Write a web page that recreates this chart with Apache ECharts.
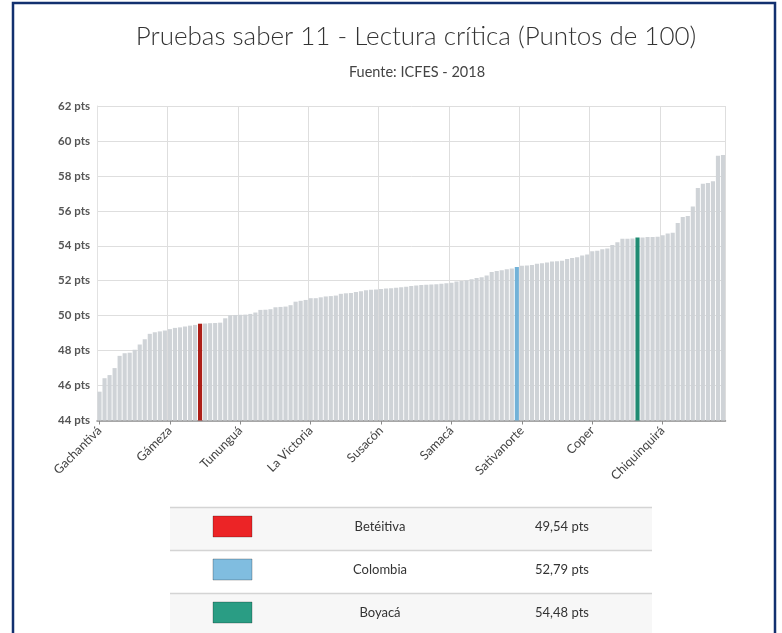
<!DOCTYPE html>
<html>
<head>
<meta charset="utf-8">
<script src="https://cdn.jsdelivr.net/npm/echarts@6/dist/echarts.min.js"></script>
<style>
html,body{margin:0;padding:0;background:#fff;}
#chart{width:782px;height:633px;}
</style>
</head>
<body>
<div id="chart"></div>
<script>
// ---- Data ----
const titleText = 'Pruebas saber 11 - Lectura crítica (Puntos de 100)';
const subtitleText = 'Fuente: ICFES - 2018';

// Scores (points out of 100), sorted ascending, one bar per entity
const scores = [
  45.65, 46.42, 46.60, 47.00, 47.70, 47.85, 47.88, 48.05, 48.35, 48.65,
  48.96, 49.05, 49.10, 49.15, 49.23, 49.30, 49.33, 49.38, 49.43, 49.47,
  49.54, 49.55, 49.57, 49.58, 49.60, 49.85, 50.02, 50.04, 50.05, 50.06,
  50.10, 50.18, 50.33, 50.34, 50.37, 50.48, 50.50, 50.52, 50.60, 50.80,
  50.85, 50.90, 51.00, 51.00, 51.05, 51.10, 51.12, 51.15, 51.25, 51.28,
  51.30, 51.35, 51.40, 51.45, 51.48, 51.50, 51.52, 51.55, 51.57, 51.60,
  51.62, 51.65, 51.70, 51.72, 51.75, 51.77, 51.78, 51.80, 51.82, 51.85,
  51.88, 51.95, 51.98, 52.02, 52.08, 52.15, 52.20, 52.30, 52.50, 52.55,
  52.60, 52.65, 52.70, 52.79, 52.85, 52.87, 52.90, 52.97, 53.00, 53.05,
  53.10, 53.12, 53.15, 53.25, 53.30, 53.35, 53.45, 53.50, 53.68, 53.72,
  53.80, 53.85, 54.05, 54.20, 54.40, 54.40, 54.42, 54.48, 54.48, 54.50,
  54.50, 54.52, 54.60, 54.70, 54.75, 55.30, 55.65, 55.70, 56.25, 57.30,
  57.55, 57.60, 57.70, 59.15, 59.20
];

// Axis tick labels shown (every 14th bar)
const tickLabels = ['Gachantivá', 'Gámeza', 'Tununguá', 'La Victoria', 'Susacón', 'Samacá', 'Sativanorte', 'Coper', 'Chiquinquirá'];
const tickStep = 14;

// Highlighted entities
const highlightNames = ['Betéitiva', 'Colombia', 'Boyacá'];
const highlightIndex = [20, 83, 107];
const highlightValues = [49.54, 52.79, 54.48];
const highlightBarColors = ['#ad1f18', '#72b2d8', '#1f8b72'];
const highlightSwatchColors = ['#ec2426', '#80bde0', '#2a9d84'];

const yMin = 44, yMax = 62, yStep = 2;

// ---- Build categories / series ----
const categories = scores.map((v, i) => {
  if (i % tickStep === 0 && tickLabels[i / tickStep]) return tickLabels[i / tickStep];
  const h = highlightIndex.indexOf(i);
  return h >= 0 ? highlightNames[h] : ('#' + (i + 1));
});

const barColor = '#cfd3d7';
const seriesData = scores.map((v, i) => {
  const h = highlightIndex.indexOf(i);
  if (h >= 0) {
    return { value: highlightValues[h], itemStyle: { color: highlightBarColors[h] } };
  }
  return v;
});

const fontMain = 'Lato, "Open Sans", sans-serif';

// ---- Table (legend) below the chart ----
const tableLeft = 170, tableRight = 652, tableTop = 507, rowH = 43;
const tableGraphics = [];
highlightNames.forEach((name, k) => {
  const y0 = tableTop + k * rowH;
  tableGraphics.push({
    type: 'rect', silent: true,
    shape: { x: tableLeft, y: y0, width: tableRight - tableLeft, height: rowH },
    style: { fill: k % 2 === 0 ? '#f7f7f7' : '#ffffff' }
  });
  tableGraphics.push({
    type: 'line', silent: true,
    shape: { x1: tableLeft, y1: y0 + 0.5, x2: tableRight, y2: y0 + 0.5 },
    style: { stroke: '#d4d4d4', lineWidth: 1.5 }
  });
  tableGraphics.push({
    type: 'rect', silent: true,
    shape: { x: 213, y: y0 + 9, width: 39, height: 21 },
    style: { fill: highlightSwatchColors[k], stroke: 'rgba(0,0,0,0.25)', lineWidth: 1 }
  });
  tableGraphics.push({
    type: 'text', silent: true,
    style: { x: 380, y: y0 + 19.5, text: name, fill: '#333', font: '13px ' + fontMain,
             align: 'center', verticalAlign: 'middle' }
  });
  tableGraphics.push({
    type: 'text', silent: true,
    style: { x: 562, y: y0 + 19.5, text: highlightValues[k].toFixed(2).replace('.', ',') + ' pts',
             fill: '#333', font: '13px ' + fontMain, align: 'center', verticalAlign: 'middle' }
  });
});

const chart = echarts.init(document.getElementById('chart'), null, { renderer: 'canvas' });
chart.setOption({
  animation: false,
  backgroundColor: '#ffffff',
  title: [
    { text: titleText, left: 411, top: 19, textAlign: 'center',
      textStyle: { fontFamily: fontMain, fontWeight: 300, fontSize: 26, color: '#333' } },
    { text: subtitleText, left: 412, top: 60, textAlign: 'center',
      textStyle: { fontFamily: fontMain, fontWeight: 400, fontSize: 14.5, color: '#444' } }
  ],
  grid: { left: 97, top: 106, width: 628.5, height: 314.5, containLabel: false },
  xAxis: {
    type: 'category',
    data: categories,
    axisLine: { lineStyle: { color: '#8a8a8a', width: 1.5 } },
    axisTick: { show: true, alignWithLabel: true, interval: tickStep - 1, length: 4, lineStyle: { color: '#8a8a8a' } },
    axisLabel: {
      interval: tickStep - 1, rotate: 45, margin: 8,
      fontFamily: fontMain, fontSize: 12.5, color: '#444'
    },
    splitLine: { show: true, interval: tickStep - 1, lineStyle: { color: '#dedede', width: 1 } }
  },
  yAxis: {
    type: 'value',
    min: yMin, max: yMax, interval: yStep,
    axisLine: { show: true, lineStyle: { color: '#e2e2e2' } },
    axisTick: { show: false },
    axisLabel: {
      margin: 7, fontFamily: fontMain, fontSize: 11.5, fontWeight: 'bold', color: '#555',
      formatter: v => v + ' pts'
    },
    splitLine: { lineStyle: { color: '#dedede', width: 1 } }
  },
  series: [{
    type: 'bar',
    data: seriesData,
    barCategoryGap: '18%',
    itemStyle: { color: barColor },
    silent: true
  }],
  graphic: [
    ...tableGraphics,
    { type: 'rect', silent: true, z: 100,
      shape: { x: 13, y: 3, width: 762, height: 660 },
      style: { fill: 'none', stroke: '#13306f', lineWidth: 2.5 } }
  ]
});
</script>
</body>
</html>
